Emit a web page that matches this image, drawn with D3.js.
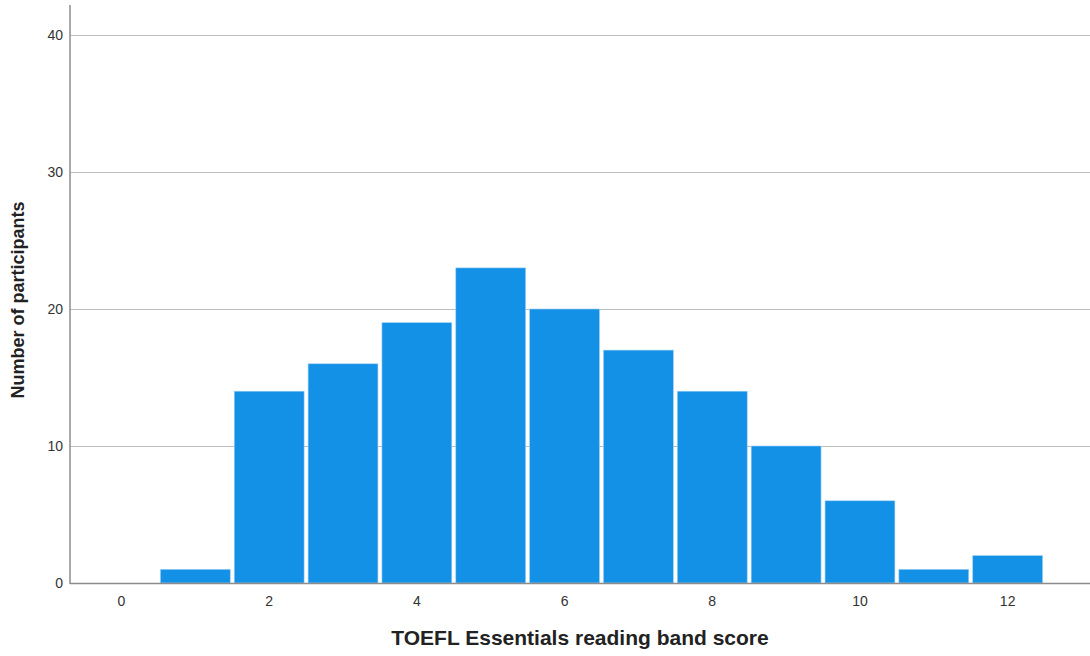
<!DOCTYPE html>
<html><head><meta charset="utf-8">
<script src="https://cdn.jsdelivr.net/npm/d3@7"></script>
<style>body{margin:0;background:#fff}svg{display:block}text{font-family:"Liberation Sans",Arial,sans-serif}</style>
</head><body>
<script>
const scores = [0,1,2,3,4,5,6,7,8,9,10,11,12];
const counts = [0,1,14,16,19,23,20,17,14,10,6,1,2];
const xTicks = [0,2,4,6,8,10,12];
const yTicks = [0,10,20,30,40];

const W=1090,H=656;
const mLeft=70, mRight=1090, mTop=5, mBottom=583;
const svg=d3.select("body").append("svg").attr("width",W).attr("height",H);
const x=d3.scaleLinear().domain([-0.697,13.115]).range([mLeft,mRight]);
const y=d3.scaleLinear().domain([0,40]).range([mBottom,35]);

// gridlines
svg.append("g").selectAll("line").data(yTicks.filter(d=>d>0)).join("line")
  .attr("x1",mLeft).attr("x2",mRight).attr("y1",d=>y(d)+0.5).attr("y2",d=>y(d)+0.5)
  .attr("stroke","#bdbdbd").attr("stroke-width",1);

// bars
svg.append("g").selectAll("rect").data(scores.map((s,i)=>({s,c:counts[i]})).filter(d=>d.c>0)).join("rect")
  .attr("x",d=>x(d.s-0.5)+2).attr("width",d=>x(d.s+0.5)-x(d.s-0.5)-4)
  .attr("y",d=>y(d.c)).attr("height",d=>mBottom-y(d.c))
  .attr("fill","#1391e7").attr("stroke","#9fd0f5").attr("stroke-width",0.6);

// axes lines
svg.append("line").attr("x1",mLeft).attr("x2",mLeft).attr("y1",mTop).attr("y2",mBottom+1)
  .attr("stroke","#8c8c8c").attr("stroke-width",1.5);
svg.append("line").attr("x1",mLeft).attr("x2",mRight).attr("y1",mBottom+0.5).attr("y2",mBottom+0.5)
  .attr("stroke","#8c8c8c").attr("stroke-width",1.5);

// tick labels
svg.append("g").selectAll("text").data(yTicks).join("text")
  .attr("x",63).attr("y",d=>y(d)).attr("dy","0.35em").attr("text-anchor","end")
  .attr("font-size",14).attr("fill","#333").text(d=>d);
svg.append("g").selectAll("text").data(xTicks).join("text")
  .attr("x",d=>x(d)).attr("y",606).attr("text-anchor","middle")
  .attr("font-size",14).attr("fill","#333").text(d=>d);

// axis titles
svg.append("text").attr("transform","translate(24,300) rotate(-90)").attr("text-anchor","middle")
  .attr("font-size",18).attr("font-weight","bold").attr("fill","#222").text("Number of participants");
svg.append("text").attr("x",580).attr("y",645).attr("text-anchor","middle")
  .attr("font-size",21).attr("font-weight","bold").attr("fill","#222").text("TOEFL Essentials reading band score");
</script>
</body></html>
